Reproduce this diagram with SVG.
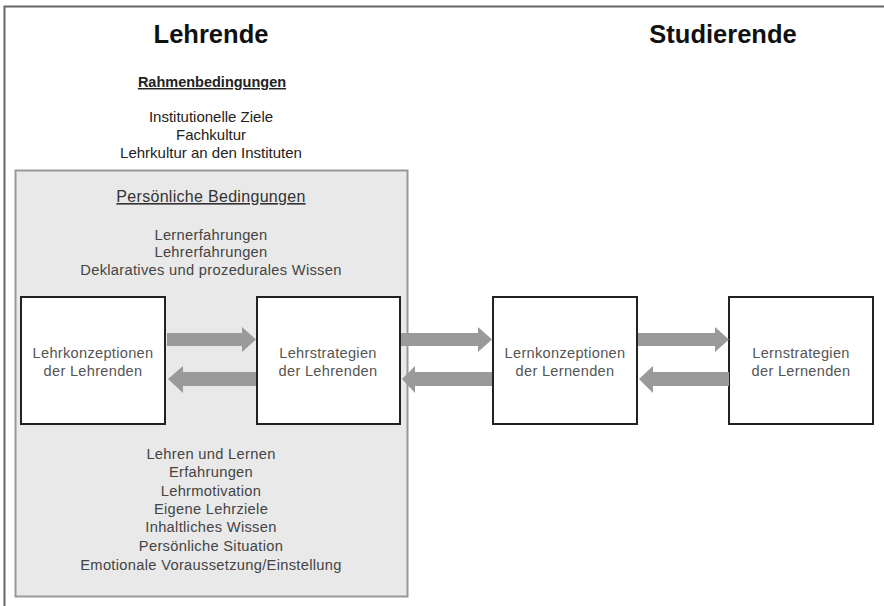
<svg xmlns="http://www.w3.org/2000/svg" width="884" height="606" viewBox="0 0 884 606">
<style>
.t{font-family:"Liberation Sans",Arial,sans-serif;text-anchor:middle}
.title{font-size:25.5px;font-weight:bold;fill:#111}
.rb{font-size:15px;fill:#222}
.pb{font-size:14.7px;fill:#444;letter-spacing:0.3px}
.node rect{fill:#fff;stroke:#222;stroke-width:2}
.node text{font-family:"Liberation Sans",Arial,sans-serif;text-anchor:middle;font-size:14.6px;fill:#555;letter-spacing:0.3px}
.arr{fill:#9a9a9a}
</style>
<rect x="0" y="0" width="884" height="606" fill="#fff"/>
<path d="M4.5 606 V6.5 H884" fill="none" stroke="#666" stroke-width="2"/>
<g id="headers">
<text class="t title" x="211" y="43">Lehrende</text>
<text class="t title" x="723" y="43">Studierende</text>
</g>
<g id="rahmen">
<text class="t rb" x="212" y="87" font-weight="bold" text-decoration="underline" style="font-size:14.5px">Rahmenbedingungen</text>
<text class="t rb" x="211" y="122">Institutionelle Ziele</text>
<text class="t rb" x="211" y="140">Fachkultur</text>
<text class="t rb" x="211" y="158">Lehrkultur an den Instituten</text>
</g>
<g id="persoenlich">
<rect x="15.5" y="170.5" width="392" height="426" fill="#e9e9e9" stroke="#999" stroke-width="2"/>
<text class="t pb" x="211" y="202" text-decoration="underline" style="fill:#333;font-size:16px">Persönliche Bedingungen</text>
<text class="t pb" x="211" y="240">Lernerfahrungen</text>
<text class="t pb" x="211" y="257">Lehrerfahrungen</text>
<text class="t pb" x="211" y="275">Deklaratives und prozedurales Wissen</text>
<text class="t pb" x="211" y="459">Lehren und Lernen</text>
<text class="t pb" x="211" y="477">Erfahrungen</text>
<text class="t pb" x="211" y="496">Lehrmotivation</text>
<text class="t pb" x="211" y="514">Eigene Lehrziele</text>
<text class="t pb" x="211" y="532">Inhaltliches Wissen</text>
<text class="t pb" x="211" y="551">Persönliche Situation</text>
<text class="t pb" x="211" y="570">Emotionale Voraussetzung/Einstellung</text>
</g>
<g id="lehrkonzeptionen" class="node">
<rect x="21" y="297" width="144" height="127"/>
<text x="93" y="358">Lehrkonzeptionen</text>
<text x="93" y="376">der Lehrenden</text>
</g>
<g id="lehrstrategien" class="node">
<rect x="257" y="297" width="143" height="127"/>
<text x="328" y="358">Lehrstrategien</text>
<text x="328" y="376">der Lehrenden</text>
</g>
<g id="lernkonzeptionen" class="node">
<rect x="493" y="297" width="144" height="127"/>
<text x="565" y="358">Lernkonzeptionen</text>
<text x="565" y="376">der Lernenden</text>
</g>
<g id="lernstrategien" class="node">
<rect x="729" y="297" width="144" height="127"/>
<text x="801" y="358">Lernstrategien</text>
<text x="801" y="376">der Lernenden</text>
</g>
<g id="connectors" class="arr">
<path d="M167 333 H242 V327 L256 339.5 L242 352 V346 H167 Z"/>
<path d="M256 372 H183 V366 L168 379 L183 393 V386 H256 Z"/>
<path d="M401 333 H478 V327 L492 339.5 L478 352 V346 H401 Z"/>
<path d="M492 372 H415 V366 L402 379 L415 393 V386 H492 Z"/>
<path d="M638 333 H715 V327 L729 339.5 L715 352 V346 H638 Z"/>
<path d="M729 372 H653 V366 L639 379 L653 393 V386 H729 Z"/>
</g>
</svg>
